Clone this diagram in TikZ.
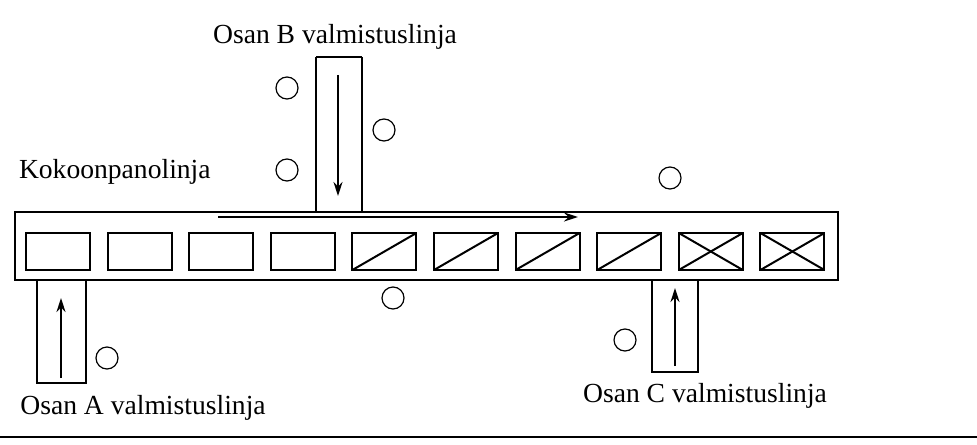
\documentclass[tikz,border=0pt]{standalone}
\usepackage{fontspec}
\usetikzlibrary{arrows.meta}
\setmainfont{Liberation Serif}
\begin{document}
\begin{tikzpicture}[x=0.5pt,y=-0.5pt,line width=1pt,
  lbl/.style={font=\fontsize{13.8}{15}\selectfont,inner sep=0},
  dot/.style={circle,draw,line width=0.6pt,minimum size=11pt,inner sep=0},
  arr/.style={-{Stealth[length=7pt,width=4.5pt]},line width=0.9pt}]
\useasboundingbox (0,0) rectangle (977,444);
\draw (15,212) rectangle (838,280);
\draw (316,57) -- (316,212) (362,57) -- (362,212) (316,57) -- (362,57);
\draw (37,280) -- (37,383) -- (86,383) -- (86,280);
\draw (652,280) -- (652,372) -- (698,372) -- (698,280);
\foreach \i in {0,...,9}{
  \pgfmathsetmacro\xa{26+81.6*\i}
  \draw (\xa,233) rectangle ++(64,37);
}
\foreach \i in {4,...,9}{
  \pgfmathsetmacro\xa{26+81.6*\i}
  \draw (\xa,270) -- ++(64,-37);
}
\foreach \i in {8,9}{
  \pgfmathsetmacro\xa{26+81.6*\i}
  \draw (\xa,233) -- ++(64,37);
}
\coordinate (m1) at (218,217); \coordinate (m2) at (578,217);
\draw[arr] (m1) -- (m2);
\coordinate (b1) at (338,75); \coordinate (b2) at (338,196);
\draw[arr] (b1) -- (b2);
\coordinate (a1) at (61,378); \coordinate (a2) at (61,298);
\draw[arr] (a1) -- (a2);
\coordinate (c1) at (675,366); \coordinate (c2) at (675,288);
\draw[arr] (c1) -- (c2);
\foreach \n/\p in {d1/{(287,88)},d2/{(384,130)},d3/{(287,170)},d4/{(670,178)},d5/{(393,298)},d6/{(107,358)},d7/{(625,340)}}
  \node[dot] (\n) at \p {};
\node[lbl] (tb) at (335,37) {Osan B valmistuslinja};
\node[lbl,anchor=west] (tk) at (18,172) {Kokoonpanolinja};
\node[lbl] (ta) at (143,408) {Osan A valmistuslinja};
\node[lbl] (tc) at (705,396) {Osan C valmistuslinja};
\draw[line width=1pt] (0,437) -- (977,437);
\end{tikzpicture}
\end{document}
